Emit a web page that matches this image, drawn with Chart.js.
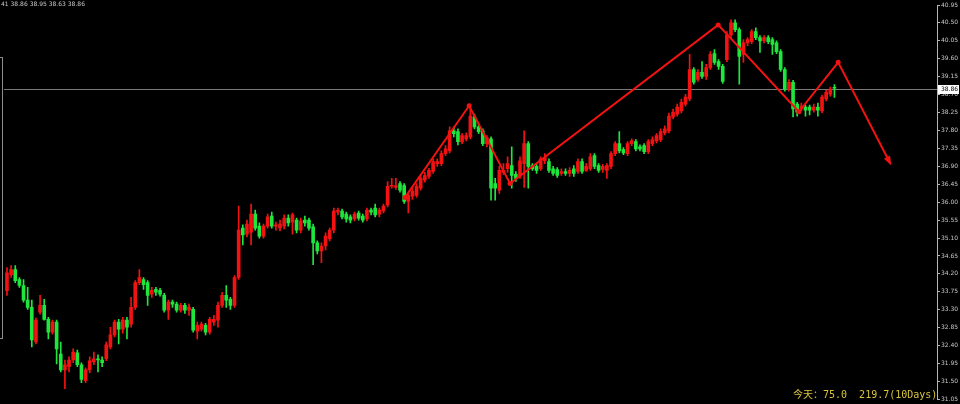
<!DOCTYPE html>
<html>
<head>
<meta charset="utf-8">
<script src="https://cdn.jsdelivr.net/npm/chart.js@4.4.0/dist/chart.umd.min.js"></script>
<style>
  html, body { margin: 0; padding: 0; background: #000; overflow: hidden; }
  canvas { display: block; }
</style>
</head>
<body>
<canvas id="chart" width="960" height="404"></canvas>
<script>
// candle data (oldest first)
const opens = [
  33.78,34.18,34.31,34.06,33.91,33.54,33.36,32.49,33.24,33.41,33.06,32.74,32.99,32.19,31.79,31.87,32.04,32.22,31.92,31.52,
  31.79,31.99,32.07,32.04,32.07,32.37,32.67,32.99,32.81,33.04,32.94,33.36,33.98,34.06,33.98,33.69,33.81,33.79,33.66,33.29,
  33.49,33.44,33.29,33.41,33.29,33.31,32.76,32.81,32.91,32.74,32.99,33.04,33.41,33.66,33.56,33.41,34.11,35.35,35.20,35.25,
  35.70,35.40,35.15,35.40,35.65,35.40,35.35,35.40,35.60,35.50,35.55,35.30,35.55,35.55,35.38,34.98,34.78,34.90,35.08,35.30,
  35.75,35.78,35.70,35.63,35.58,35.73,35.65,35.58,35.80,35.85,35.70,35.78,35.93,36.40,36.37,36.47,36.42,36.02,36.15,36.17,
  36.35,36.55,36.65,36.77,36.97,36.97,37.22,37.29,37.79,37.77,37.52,37.59,37.64,38.14,37.89,37.79,37.47,37.59,36.47,36.30,
  36.75,36.84,36.92,36.70,36.65,36.97,37.47,36.92,36.90,36.84,37.04,37.02,36.84,36.82,36.72,36.77,36.72,36.84,36.77,37.02,
  36.80,36.84,37.17,36.92,36.82,36.80,36.90,37.22,37.47,37.32,37.22,37.47,37.52,37.39,37.42,37.27,37.47,37.54,37.57,37.74,
  37.79,38.14,38.21,38.29,38.46,38.59,39.33,39.08,39.26,39.16,39.38,39.73,39.53,39.41,39.58,40.20,40.50,40.33,39.71,40.00,
  40.03,40.28,40.13,40.05,40.13,40.08,40.00,39.78,39.33,38.84,39.01,38.46,38.34,38.39,38.39,38.31,38.39,38.29,38.59,38.71,
  38.86
];
const highs = [
  34.36,34.41,34.41,34.11,34.06,33.86,33.54,33.09,33.66,33.56,33.11,33.04,33.04,32.49,32.04,32.12,32.32,32.29,31.97,31.84,
  32.12,32.24,32.17,32.12,32.49,32.86,33.04,33.06,33.11,33.11,33.61,34.03,34.31,34.11,34.03,33.86,33.86,33.84,33.71,33.54,
  33.54,33.49,33.46,33.46,33.44,33.36,32.99,32.99,32.96,33.11,33.16,33.49,33.74,33.91,33.61,34.16,35.90,35.43,35.55,35.95,
  35.80,35.48,35.45,35.70,35.75,35.50,35.55,35.68,35.68,35.73,35.60,35.60,35.65,35.60,35.45,35.03,34.98,35.23,35.35,35.85,
  35.85,35.83,35.75,35.68,35.75,35.78,35.70,35.85,35.85,35.95,35.85,35.95,36.52,36.60,36.60,36.52,36.47,36.22,36.35,36.47,
  36.67,36.75,36.85,37.09,37.09,37.29,37.42,37.89,37.89,37.84,37.72,37.74,38.46,38.21,37.97,37.84,37.67,37.64,36.60,36.90,
  36.97,37.14,37.39,36.77,37.14,37.79,37.52,36.97,36.97,37.14,37.22,37.09,36.90,36.87,36.84,36.84,36.87,36.92,37.09,37.09,
  36.97,37.22,37.22,36.97,36.95,36.97,37.27,37.52,37.77,37.37,37.52,37.59,37.57,37.44,37.47,37.57,37.64,37.72,37.84,37.92,
  38.24,38.34,38.46,38.59,38.71,39.71,39.38,39.33,39.53,39.46,39.78,39.83,39.58,39.46,40.28,40.58,40.58,40.38,40.08,40.13,
  40.33,40.38,40.18,40.18,40.18,40.13,40.05,39.83,39.38,39.08,39.06,38.51,38.49,38.44,38.44,38.46,38.49,38.69,38.81,38.89,
  38.95
];
const lows = [
  33.66,34.11,33.98,33.86,33.49,33.31,32.37,32.44,33.19,33.04,32.57,32.69,31.94,31.74,31.32,31.74,31.97,31.87,31.47,31.47,
  31.72,31.92,31.74,31.87,32.02,32.32,32.62,32.44,32.71,32.57,32.86,33.31,33.93,33.81,33.41,33.61,33.66,33.64,33.24,33.06,
  33.36,33.24,33.24,33.21,33.16,32.74,32.57,32.76,32.67,32.69,32.91,32.86,33.36,33.36,33.31,33.36,34.06,34.93,35.13,34.93,
  35.30,35.10,35.10,35.35,35.35,35.30,35.28,35.33,35.40,35.20,35.23,35.23,35.40,35.30,34.43,34.70,34.48,34.80,35.03,35.23,
  35.68,35.58,35.50,35.48,35.53,35.55,35.50,35.53,35.68,35.63,35.63,35.73,35.88,36.35,36.32,36.25,35.97,35.73,36.07,36.12,
  36.30,36.50,36.60,36.72,36.90,36.92,37.17,37.24,37.64,37.44,37.47,37.54,37.59,37.84,37.72,37.42,37.39,36.05,36.05,36.22,
  36.70,36.75,36.35,36.52,36.60,36.37,36.35,36.80,36.72,36.80,36.97,36.75,36.67,36.62,36.67,36.67,36.65,36.65,36.72,36.72,
  36.77,36.80,36.84,36.75,36.75,36.60,36.84,37.17,37.24,37.19,37.17,37.42,37.29,37.29,37.22,37.22,37.42,37.49,37.52,37.69,
  37.74,38.09,38.16,38.24,38.41,38.54,38.96,39.03,39.11,39.08,39.33,39.46,39.33,38.98,39.53,40.13,40.28,38.96,39.51,39.93,
  39.98,40.08,39.76,40.00,39.98,39.71,39.73,39.28,38.79,38.79,38.14,38.16,38.29,38.16,38.19,38.26,38.16,38.24,38.54,38.66,
  38.63
];
const closes = [
  34.23,34.31,34.03,33.91,33.54,33.36,32.54,33.04,33.41,33.06,32.74,32.99,32.32,31.79,31.92,32.04,32.24,31.92,31.55,31.79,
  32.02,32.07,32.04,31.97,32.42,32.67,32.99,32.81,33.04,32.86,33.36,33.98,34.11,33.93,33.66,33.79,33.74,33.69,33.29,33.49,
  33.44,33.29,33.41,33.29,33.36,32.79,32.91,32.94,32.74,33.06,33.06,33.41,33.66,33.54,33.41,34.11,35.30,35.18,35.45,35.70,
  35.35,35.15,35.40,35.63,35.40,35.43,35.45,35.60,35.48,35.68,35.30,35.53,35.48,35.35,34.98,34.78,34.90,35.15,35.30,35.78,
  35.80,35.63,35.58,35.55,35.70,35.60,35.55,35.80,35.75,35.68,35.80,35.90,36.40,36.42,36.42,36.30,36.02,36.17,36.27,36.40,
  36.60,36.67,36.80,37.02,37.02,37.22,37.34,37.79,37.72,37.52,37.67,37.67,38.16,37.89,37.77,37.47,37.62,36.35,36.35,36.80,
  36.80,36.97,36.67,36.60,37.04,37.47,36.90,36.84,36.80,37.09,37.12,36.80,36.72,36.67,36.77,36.72,36.80,36.72,37.02,36.77,
  36.90,37.14,36.90,36.80,36.90,36.92,37.22,37.47,37.29,37.24,37.47,37.54,37.34,37.34,37.27,37.52,37.57,37.67,37.77,37.84,
  38.16,38.26,38.39,38.51,38.64,39.33,39.01,39.26,39.16,39.38,39.71,39.51,39.41,39.03,40.20,40.50,40.33,39.66,40.00,40.08,
  40.28,40.13,40.05,40.13,40.03,39.96,39.78,39.33,38.84,39.01,38.34,38.26,38.41,38.31,38.31,38.39,38.31,38.64,38.76,38.84,
  38.86
];

// right axis tick labels
const yTicks = [40.95,40.50,40.05,39.60,39.15,38.70,38.25,37.80,37.35,36.90,36.45,36.00,
  35.55,35.10,34.65,34.20,33.75,33.30,32.85,32.40,31.95,31.50,31.05];

// hand-drawn zigzag (bar index, price)
const zigX = [96.2, 111.7, 121.6, 171.9, 191.4, 200.9, 213.5];
const zigY = [36.12, 38.42, 36.47, 40.45, 38.27, 39.51, 36.97];

const footerText = '今天：75.0  219.7(10Days)';
const symbolTag = '41';

const RED = '#f21212';
const GREEN = '#1ee63c';
const AXIS = '#b4b4b4';

const idx = closes.map((_, i) => i);
const candleColor = idx.map(i => closes[i] > opens[i] ? RED : GREEN);
const last = closes.length - 1;
const lastPrice = closes[last];

const overlay = {
  id: 'overlay',
  beforeDatasetsDraw(chart) {
    const { ctx, chartArea, scales } = chart;
    const y = Math.round(scales.y.getPixelForValue(lastPrice)) + 1.5;
    ctx.save();
    ctx.strokeStyle = '#7a7a7a';
    ctx.lineWidth = 1;
    ctx.beginPath();
    ctx.moveTo(chartArea.left, y);
    ctx.lineTo(chartArea.right, y);
    ctx.stroke();
    // panel edge on the left
    ctx.strokeStyle = '#8c8c8c';
    ctx.strokeRect(-3.5, 57.5, 6, 281);
    ctx.restore();
  },
  afterDatasetsDraw(chart) {
    const { ctx } = chart;
    const pts = chart.getDatasetMeta(0).data;
    const a = pts[pts.length - 2], b = pts[pts.length - 1];
    const ang = Math.atan2(b.y - a.y, b.x - a.x);
    ctx.save();
    ctx.fillStyle = RED;
    ctx.beginPath();
    ctx.moveTo(b.x + 2 * Math.cos(ang), b.y + 2 * Math.sin(ang));
    ctx.lineTo(b.x - 8 * Math.cos(ang - 0.45), b.y - 8 * Math.sin(ang - 0.45));
    ctx.lineTo(b.x - 8 * Math.cos(ang + 0.45), b.y - 8 * Math.sin(ang + 0.45));
    ctx.closePath();
    ctx.fill();
    ctx.restore();
  },
  afterDraw(chart) {
    const { ctx, scales } = chart;
    const y = Math.round(scales.y.getPixelForValue(lastPrice)) + 1;
    ctx.save();
    // price tag
    ctx.fillStyle = '#ffffff';
    ctx.fillRect(938, y - 4, 21, 9);
    ctx.fillStyle = '#000';
    ctx.font = '6px "DejaVu Sans"';
    ctx.textBaseline = 'middle';
    ctx.textAlign = 'left';
    ctx.fillText(lastPrice.toFixed(2), 941, y + 0.5);
    // ohlc header
    ctx.fillStyle = '#c8c8c8';
    ctx.fillText(`${symbolTag} ${opens[last].toFixed(2)} ${highs[last].toFixed(2)} ${lows[last].toFixed(2)} ${closes[last].toFixed(2)}`, 1, 4.5);
    // footer
    ctx.fillStyle = '#d6c43c';
    ctx.font = '10px "DejaVu Sans Mono", "Noto Sans CJK SC"';
    ctx.textBaseline = 'alphabetic';
    ctx.fillText(footerText, 793, 398);
    ctx.restore();
  }
};

new Chart(document.getElementById('chart'), {
  type: 'bar',
  data: {
    datasets: [
      {
        type: 'line',
        data: zigX.map((x, i) => ({ x, y: zigY[i] })),
        borderColor: RED,
        borderWidth: 2,
        pointRadius: zigX.map((_, i) => i === zigX.length - 1 ? 0 : 2.5),
        pointBackgroundColor: RED,
        pointBorderWidth: 0,
        order: 0
      },
      {
        data: idx.map(i => ({ x: i, y: [lows[i], highs[i]] })),
        backgroundColor: candleColor,
        barThickness: 1,
        grouped: false,
        order: 2
      },
      {
        data: idx.map(i => ({ x: i, y: [opens[i], closes[i]] })),
        backgroundColor: candleColor,
        barThickness: 3,
        minBarLength: 1,
        grouped: false,
        order: 1
      }
    ]
  },
  options: {
    responsive: false,
    animation: false,
    devicePixelRatio: 1,
    layout: { padding: { top: 5, bottom: 1, left: 0, right: 0 } },
    plugins: { legend: { display: false }, tooltip: { enabled: false } },
    scales: {
      x: { type: 'linear', display: false, min: -0.72, max: 224.79, offset: false },
      y: {
        position: 'right',
        min: 31.05,
        max: 40.95,
        afterFit(s) { s.width = 23; },
        afterBuildTicks(s) { s.ticks = yTicks.map(v => ({ value: v })); },
        ticks: {
          color: '#c8c8c8',
          font: { size: 6, family: 'DejaVu Sans' },
          padding: 1,
          autoSkip: false,
          callback: v => v.toFixed(2)
        },
        grid: { drawOnChartArea: false, tickLength: 3, color: AXIS },
        border: { color: AXIS }
      }
    }
  },
  plugins: [overlay]
});
</script>
</body>
</html>
